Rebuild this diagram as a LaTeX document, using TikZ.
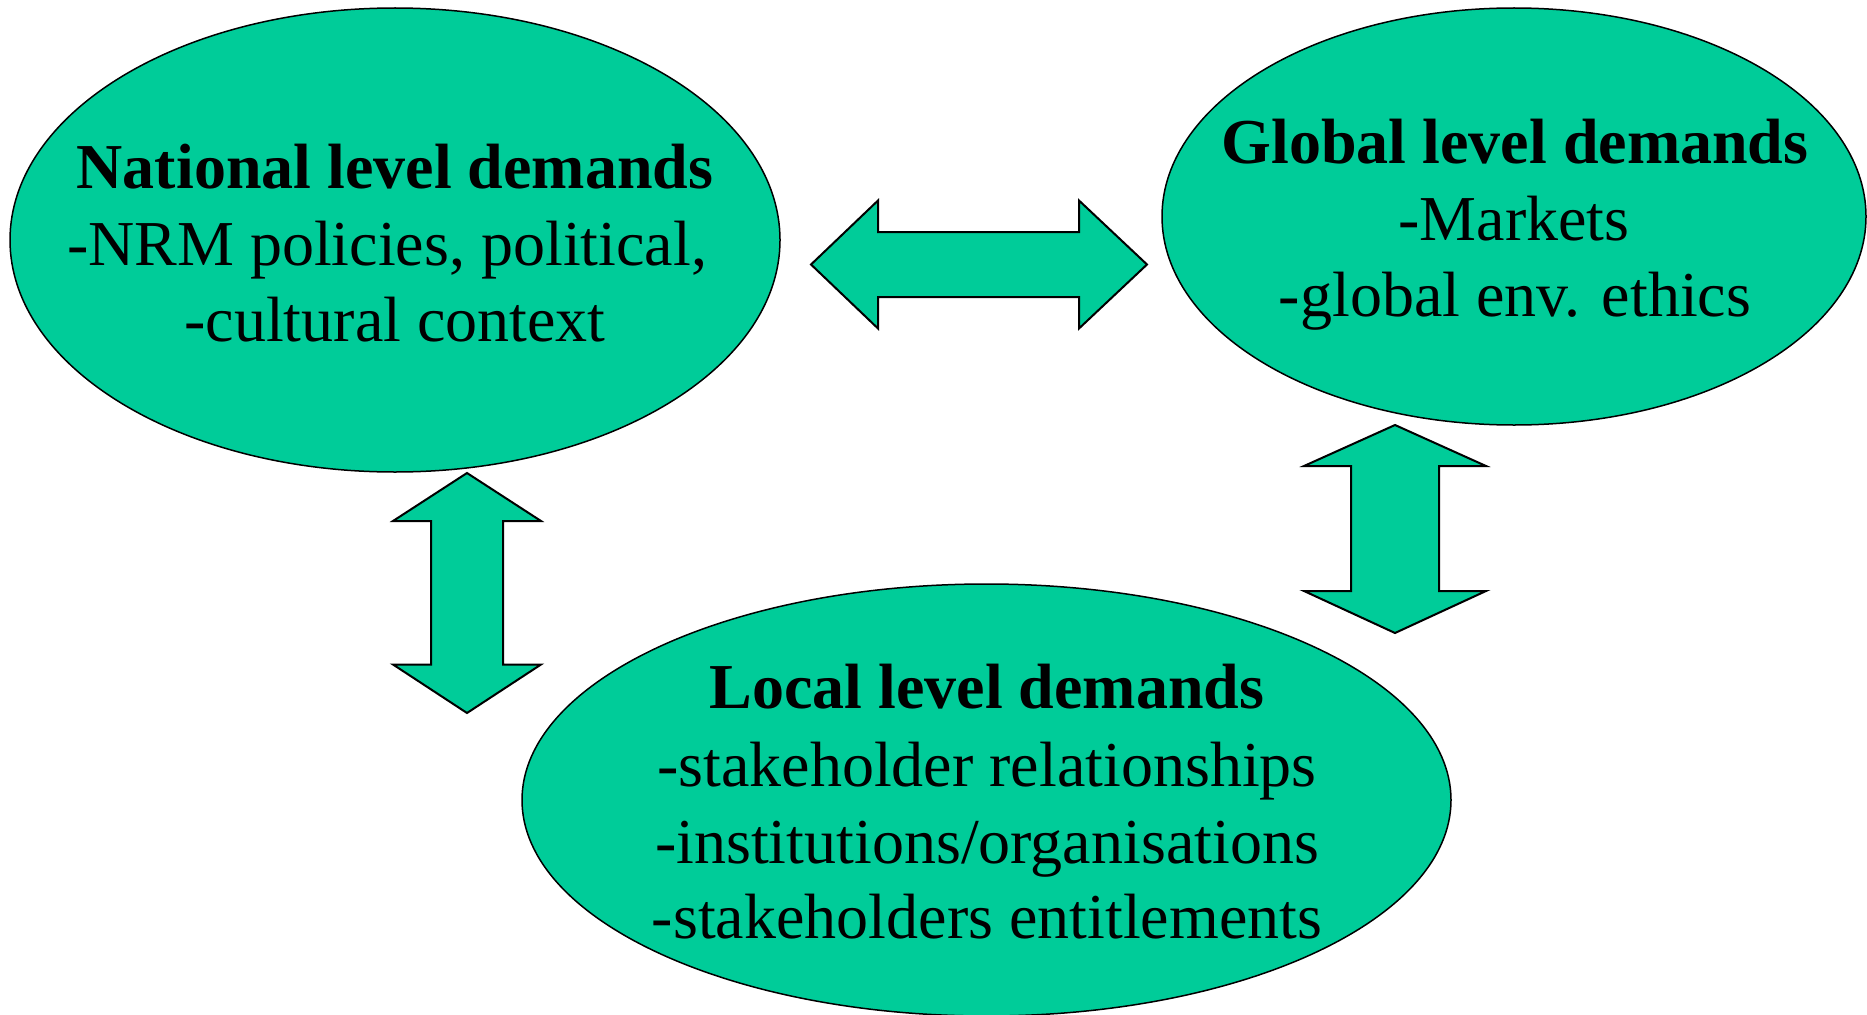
\documentclass[tikz,border=0pt]{standalone}
\usepackage{fontspec}
\setmainfont{Liberation Serif}
\usetikzlibrary{shapes.geometric}
\definecolor{boxgreen}{RGB}{0,204,153}
\begin{document}
\begin{tikzpicture}[x=1pt,y=-1pt,
  blob/.style={ellipse, draw=black, fill=boxgreen, line width=1.5pt, inner sep=0pt, outer sep=0pt},
  blockarrow/.style={draw=black, fill=boxgreen, line width=2pt, line join=miter},
  txt/.style={anchor=base, inner sep=0pt, font=\fontsize{64}{77}\selectfont},
  headtxt/.style={anchor=base, inner sep=0pt, font=\fontsize{64}{77}\selectfont\bfseries}]
\useasboundingbox (0,0) rectangle (1867,1014);
\clip (0,0) rectangle (1867,1014);
% ellipses
\node[blob, minimum width=770pt, minimum height=464pt] (nat) at (395,240) {};
\node[blob, minimum width=704pt, minimum height=417pt] (glob) at (1514,216.5) {};
\node[blob, minimum width=929pt, minimum height=432pt] (loc) at (986.5,800) {};
% national text
\node[headtxt] (natT) at (395,188) {National level demands};
\node[txt] (nat1) at (387,265) {-NRM policies, political,};
\node[txt] (nat2) at (395,341) {-cultural context};
% global text
\node[headtxt] (globT) at (1515,163) {Global level demands};
\node[txt] (glob1) at (1514,240) {-Markets};
\node[txt] (glob2) at (1515,316) {-global env. ethics};
% local text
\node[headtxt] (locT) at (987,708) {Local level demands};
\node[txt] (loc1) at (987,786) {-stakeholder relationships};
\node[txt] (loc2) at (987,863) {-institutions/organisations};
\node[txt] (loc3) at (987,938) {-stakeholders entitlements};
% block arrows
\draw[blockarrow] (811,264.5) -- (878,200.5) -- (878,232) -- (1079,232) -- (1079,200.5) -- (1147,264.5) -- (1079,328.5) -- (1079,297) -- (878,297) -- (878,328.5) -- cycle;
\draw[blockarrow] (467,473) -- (541,521) -- (503,521) -- (503,664.5) -- (541,664.5) -- (467,713) -- (393,664.5) -- (431,664.5) -- (431,521) -- (393,521) -- cycle;
\draw[blockarrow] (1395,425) -- (1486,466) -- (1439,466) -- (1439,591) -- (1486,591) -- (1395,633) -- (1304,591) -- (1351,591) -- (1351,466) -- (1304,466) -- cycle;
\end{tikzpicture}
\end{document}
